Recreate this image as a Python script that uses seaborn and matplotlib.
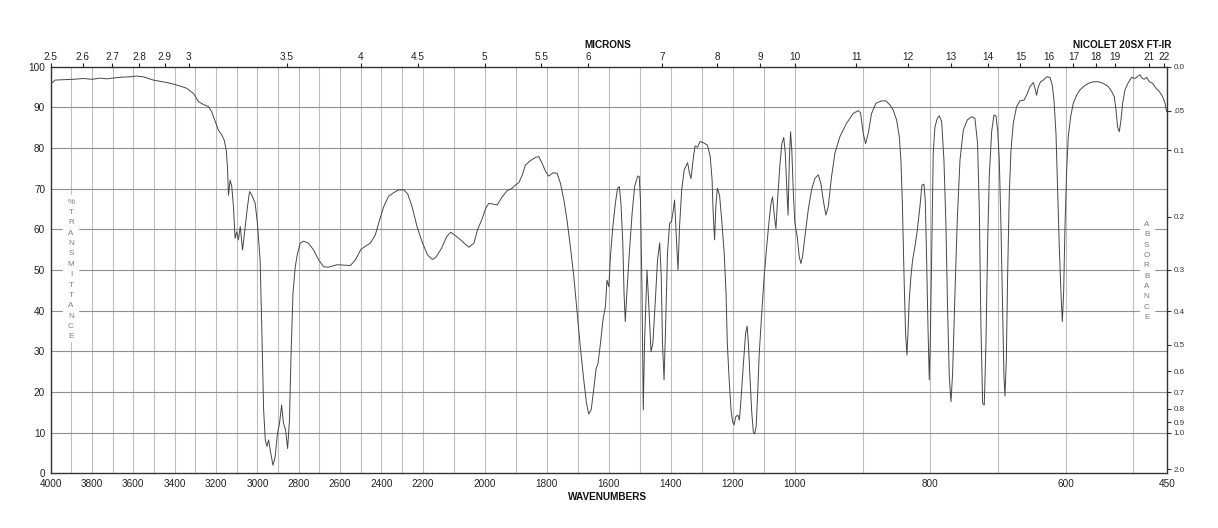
import numpy as np
import pandas as pd
import seaborn as sns
import matplotlib.pyplot as plt

# spectrum: wavenumber (cm-1) and % transmittance
wavenumber = [
    4000, 3979, 3940, 3890, 3842, 3800, 3760, 3729, 3700, 3664, 3620, 3584, 3551, 3503, 3438, 3390,
    3342, 3309, 3285, 3261, 3237, 3221, 3204, 3188, 3172, 3161, 3151, 3145, 3140, 3132, 3124, 3116,
    3108, 3100, 3092, 3083, 3072, 3059, 3048, 3038, 3027, 3011, 3000, 2987, 2979, 2970, 2962, 2954,
    2946, 2938, 2925, 2914, 2903, 2893, 2883, 2874, 2864, 2854, 2845, 2838, 2828, 2817, 2806, 2793,
    2777, 2753, 2728, 2704, 2680, 2656,
    2615, 2550, 2526, 2499, 2470, 2454, 2430, 2409, 2389, 2365, 2341, 2317, 2292, 2273, 2252, 2228,
    2204, 2185, 2169, 2158, 2140, 2123, 2110, 2094, 2078, 2062, 2051, 2035, 2024, 2008, 1997, 1987,
    1973, 1960, 1944, 1928, 1912, 1901, 1890, 1879, 1869, 1853, 1836, 1826, 1815, 1804, 1794, 1780,
    1767, 1756, 1745, 1735, 1724, 1713, 1702, 1692, 1681, 1672, 1665, 1657, 1649, 1641, 1635, 1627,
    1619, 1611, 1606, 1600, 1595,
    1587, 1579, 1572, 1566, 1561, 1555, 1551, 1547, 1542, 1534, 1525, 1517, 1507, 1502, 1498, 1493,
    1489, 1485, 1477, 1472, 1464, 1458, 1450, 1443, 1436, 1431, 1427, 1422, 1417, 1411, 1404, 1398,
    1392, 1388, 1383, 1377, 1372, 1365, 1357, 1346, 1340, 1335, 1327, 1322, 1314, 1306, 1295, 1282,
    1273, 1267, 1264, 1259, 1255, 1250, 1243, 1236, 1228, 1222, 1218, 1212, 1206, 1201, 1196, 1191,
    1184, 1179, 1174, 1166, 1159, 1154, 1150, 1145, 1139, 1134, 1130, 1125, 1120, 1115, 1107, 1099,
    1091, 1083, 1077, 1072, 1066, 1061, 1056, 1048, 1042, 1036, 1031, 1026, 1022, 1018, 1014, 1010,
    1005, 1000, 996.6, 993.6, 991.1, 988.7, 985.2, 980.3, 975.4, 970.5, 965.5, 961.6, 958.1, 954.2,
    950.7, 945.8, 940.9, 933.5, 923.6, 913.8, 906.4, 903, 899, 895.5, 891.6, 886.7, 880.3, 871.9,
    865.5,
    859.5, 854.6, 849.7, 845.7, 843.3, 841.3, 839.8, 838.3, 836.4, 834.4, 832.9, 831, 828.5, 826,
    822.6, 819.1, 815.2, 812.2, 809.3, 807.3, 805.3, 803.3, 801.4, 799.9, 797.9, 795.5, 793, 789.5,
    786.6, 783.1, 779.7, 776.7, 774.3, 771.8, 769.3, 766.9, 763.4, 760, 756, 751.1, 745.2, 738.8,
    733.9, 730, 727.4, 725, 722.5, 720.1, 717.6, 715.1, 712.7, 709.2, 705.8, 702.8, 700.3, 697.9,
    695.4, 693, 691, 689.5, 687.5, 685.6, 683.1, 680.6, 677.2, 672.3, 667.3, 661.4, 657.5, 652.5,
    647.6, 645.2, 642.7, 640.2, 636.8, 632.8, 627.9, 623, 619.6, 617.1, 614.1, 611.6, 609.2, 606.7,
    604.7, 602.8, 600.8, 598.3, 595.9, 592.4, 588.5, 583.6, 578.6, 572.7, 566.3, 558.9, 551.5, 544.1,
    536.7, 531.8, 527.9, 525.4, 523, 520.5, 518, 515.6, 512.1, 507.2, 502.2, 497.3, 493.9, 489.9,
    486.5, 483.5, 480.1, 476.2, 471.2, 466.3, 461.3, 456.4, 452.9, 450.5,
]
transmittance = [
    95.7, 96.7, 96.8, 96.9, 97.1, 96.9, 97.2, 97.0, 97.2, 97.4, 97.5, 97.7, 97.5, 96.7, 96.1, 95.5,
    94.7, 93.4, 91.4, 90.7, 90.2, 88.9, 86.5, 84.3, 83.2, 82.0, 79.5, 75.4, 68.4, 72.1, 70.5, 65.6,
    57.8, 59.4, 57.4, 60.7, 54.9, 60.7, 65.6, 69.3, 68.4, 66.4, 61.5, 52.5, 36.0, 15.6, 8.2, 6.6,
    8.2, 5.7, 2.0, 4.1, 9.8, 12.3, 16.8, 12.3, 10.7, 6.1, 13.1, 27.9, 44.3, 50.8, 54.1, 56.6,
    57.1, 56.6, 54.9, 52.5, 50.8, 50.7,
    51.3, 51.1, 52.5, 55.1, 56.1, 56.6, 58.6, 62.3, 65.6, 68.2, 69.0, 69.7, 69.7, 68.7, 65.6, 60.7,
    57.0, 53.7, 52.6, 53.1, 55.3, 58.2, 59.3, 58.4, 57.4, 56.3, 55.6, 56.6, 59.8, 62.7, 65.2, 66.4,
    66.2, 66.0, 68.0, 69.5, 70.1, 70.9, 71.5, 73.4, 75.8, 76.9, 77.7, 77.9, 76.2, 74.2, 73.1, 73.9,
    73.8, 71.3, 67.2, 62.3, 55.7, 48.4, 39.3, 31.1, 23.0, 17.2, 14.6, 15.6, 20.5, 25.8, 27.0, 32.0,
    37.7, 41.0, 47.5, 45.9, 53.3,
    60.7, 66.4, 70.1, 70.5, 66.4, 56.6, 44.3, 37.3, 44.3, 54.1, 63.9, 70.5, 73.1, 73.0, 67.2, 44.3,
    15.6, 32.0, 50.0, 42.6, 29.9, 32.0, 42.6, 52.5, 56.7, 48.4, 32.0, 23.0, 36.0, 54.1, 61.5, 61.9,
    64.8, 67.2, 59.0, 50.0, 60.7, 69.7, 74.6, 76.4, 73.8, 72.5, 77.9, 80.5, 80.2, 81.6, 81.3, 80.7,
    77.9, 72.1, 64.8, 57.4, 65.6, 70.1, 68.4, 62.3, 54.1, 44.3, 32.0, 23.0, 15.6, 12.7, 11.9, 13.9,
    14.3, 13.1, 18.0, 27.0, 34.4, 36.2, 32.0, 23.8, 14.8, 10.2, 9.7, 11.5, 19.7, 29.5, 39.3, 48.4,
    55.7, 62.3, 66.4, 68.0, 63.1, 60.2, 67.2, 76.2, 81.1, 82.6, 78.7, 69.7, 63.5, 77.0, 84.0, 79.5,
    68.9, 61.5, 58.2, 53.3, 51.6, 53.3, 58.2, 64.8, 69.7, 72.5, 73.4, 71.3, 67.2, 63.5,
    65.6, 73.0, 78.7, 82.8, 86.1, 88.5, 89.2, 88.7, 83.6, 81.1, 83.6, 88.5, 91.0, 91.6,
    91.6,
    90.6, 89.3, 86.9, 82.8, 77.0, 67.2, 56.6, 45.9, 34.4, 29.1, 34.4, 42.6, 48.4, 52.5,
    55.7, 59.8, 65.6, 70.9, 71.1, 67.2, 52.5, 36.1, 23.0, 32.0, 52.5, 78.7, 85.2, 87.3,
    87.9, 86.5, 77.0, 60.7, 40.2, 23.8, 17.6, 24.6, 44.3, 62.3, 77.0, 84.4, 86.9, 87.7,
    87.3, 81.1, 64.8, 36.1, 17.2, 16.8, 32.0, 56.6, 73.0, 84.0, 88.1, 87.9, 84.4, 77.0,
    60.7, 40.2, 23.8, 19.0, 27.9, 48.4, 68.9, 79.5, 86.1, 90.2, 91.6, 91.8, 93.0, 95.1,
    96.1, 94.7, 93.0, 95.1, 96.3, 96.7, 97.5, 97.4, 95.5, 91.8, 83.6, 68.9, 55.7, 44.3,
    37.3, 44.3, 60.7, 74.6, 82.8, 87.7, 91.0, 93.0, 94.3, 95.2, 95.9, 96.3, 96.3, 95.9,
    95.1, 93.9, 92.6, 89.3, 85.2, 84.0, 86.9, 91.0, 94.3, 96.1, 97.4, 97.1, 97.5, 98.0,
    97.1, 96.9, 97.4, 96.3, 95.9, 94.7, 93.9, 92.6, 91.0, 88.9,
]

wavenumber_ticks = [4000, 3800, 3600, 3400, 3200, 3000, 2800, 2600, 2400, 2200, 2000,
                    1800, 1600, 1400, 1200, 1000, 800, 600, 450]
micron_ticks = [2.5, 2.6, 2.7, 2.8, 2.9, 3, 3.5, 4, 4.5, 5, 5.5, 6, 7, 8, 9, 10,
                11, 12, 13, 14, 15, 16, 17, 18, 19, 21, 22]
absorbance_ticks = [0.0, 0.05, 0.1, 0.2, 0.3, 0.4, 0.5, 0.6, 0.7, 0.8, 0.9, 1.0, 2.0]
absorbance_labels = ['0.0', '.05', '0.1', '0.2', '0.3', '0.4', '0.5', '0.6', '0.7',
                     '0.8', '0.9', '1.0', '2.0']

# chart paper: 4000-2200, 2200-1000 and 1000-450 each take a third of the width
xp = [-20000, 450, 1000, 2200, 4000, 40000]
fp = [-(20450 / 550), 0, 1, 2, 3, 3 + 36000 / 1800]


def fwd(x):
    return np.interp(np.asarray(x, dtype=float), xp, fp)


def inv(v):
    return np.interp(np.asarray(v, dtype=float), fp, xp)


sns.set_theme(style='white')
plt.rcParams['font.family'] = ['Liberation Sans', 'DejaVu Sans']

W, H = 1218, 528
fig = plt.figure(figsize=(W / 100, H / 100), dpi=100)
left, right, top, bottom = 50.7, 1167, 66.7, 473.3
ax = fig.add_axes([left / W, 1 - bottom / H, (right - left) / W, (bottom - top) / H])

df = pd.DataFrame({'wavenumber': wavenumber, 'T': transmittance})
sns.lineplot(data=df, x='wavenumber', y='T', ax=ax, color='#474747', lw=0.7,
             sort=False, estimator=None, zorder=3)

ax.set_xscale('function', functions=(fwd, inv))
ax.set_xlim(4000, 450)
ax.set_ylim(0, 100)
ax.set_xlabel('')
ax.set_ylabel('')

# grid of the chart paper
for nu in range(3900, 450, -100):
    ax.axvline(nu, color='#bcbcbc', lw=0.8, zorder=0.5)
for t in range(10, 100, 10):
    ax.axhline(t, color='#909090', lw=0.8, zorder=0.5)

ax.set_xticks(wavenumber_ticks)
ax.set_xticklabels([str(v) for v in wavenumber_ticks])
ax.set_yticks(range(0, 101, 10))
ax.set_yticklabels([str(v) for v in range(0, 101, 10)])
ax.tick_params(axis='x', length=0, pad=4, labelsize=7.2, colors='#222222')
ax.tick_params(axis='y', length=0, pad=4, labelsize=7.2, colors='#222222')
for sp in ax.spines.values():
    sp.set_color('#333333')
    sp.set_linewidth(1)

# microns on top
ax2 = ax.twiny()
ax2.set_xscale('function', functions=(fwd, inv))
ax2.set_xlim(4000, 450)
ax2.set_xticks([10000 / m for m in micron_ticks])
ax2.set_xticklabels([f'{m:g}' for m in micron_ticks])
ax2.tick_params(axis='x', length=3, width=0.8, pad=0.5, labelsize=7.2, colors='#222222')
for sp in ax2.spines.values():
    sp.set_visible(False)

# absorbance on the right
ax3 = ax.twinx()
ax3.set_ylim(0, 100)
ax3.set_yticks([100 * 10 ** (-a) for a in absorbance_ticks])
ax3.set_yticklabels(absorbance_labels)
ax3.tick_params(axis='y', length=3, width=0.8, pad=1.5, labelsize=5.8, colors='#333333')
for sp in ax3.spines.values():
    sp.set_visible(False)

# stacked axis captions with white background over the grid
ax.axvspan(3868, 3940, ymin=0.325, ymax=0.685, color='white', zorder=1)
for i, ch in enumerate('%TRANSMITTANCE'):
    ax.text(3902, 66.7 - i * 2.55, ch, ha='center', va='center', fontsize=5.8,
            color='#7a7a7a', zorder=4)
ax.axvspan(469, 490, ymin=0.36, ymax=0.63, color='white', zorder=1)
for i, ch in enumerate('ABSORBANCE'):
    ax.text(480, 61.2 - i * 2.54, ch, ha='center', va='center', fontsize=5.8,
            color='#7a7a7a', zorder=4)

fig.text(608 / W, 1 - 45 / H, 'MICRONS', ha='center', va='center',
         fontsize=7.2, fontweight='bold', color='#111111')
fig.text(1171 / W, 1 - 45 / H, 'NICOLET 20SX FT-IR', ha='right', va='center',
         fontsize=7.2, fontweight='bold', color='#111111')
fig.text(608 / W, 1 - 496.5 / H, 'WAVENUMBERS', ha='center', va='center',
         fontsize=7.2, fontweight='bold', color='#111111')

fig.savefig('out.png', dpi=100)
